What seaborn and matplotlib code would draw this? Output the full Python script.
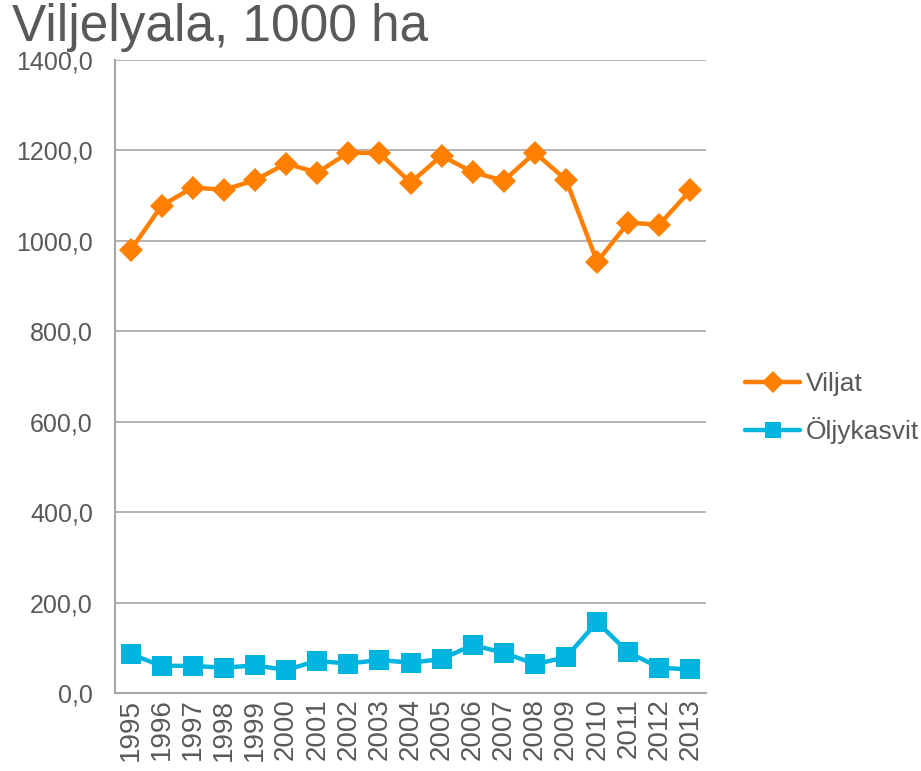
import numpy as np
import pandas as pd
import seaborn as sns
import matplotlib.pyplot as plt
from matplotlib.ticker import FuncFormatter

years = [str(y) for y in range(1995, 2014)]
viljat = [979, 1078, 1118, 1113, 1134, 1171, 1151, 1195, 1194, 1129,
          1188, 1152, 1133, 1195, 1135, 954, 1040, 1036, 1112]
oljykasvit = [86, 60, 60, 56, 61, 51, 71, 65, 73, 67,
              75, 106, 89, 64, 79, 157, 90, 56, 52]
series_names = ['Viljat', 'Öljykasvit']

sns.set_style('white')
plt.rcParams['font.family'] = ['Liberation Sans', 'DejaVu Sans']

text_col = '#595959'
axis_col = '#A6A6A6'

df = pd.DataFrame({
    'x': list(range(len(years))) * 2,
    'value': viljat + oljykasvit,
    'series': [series_names[0]] * len(years) + [series_names[1]] * len(years),
})

fig = plt.figure(figsize=(9.21, 7.71), dpi=100)
ax = fig.add_axes([115 / 921, 1 - 693 / 771, 591 / 921, 633 / 771])

sns.lineplot(data=df, x='x', y='value', hue='series', style='series',
             palette=['#FF8000', '#00B4E0'], markers=['D', 's'], dashes=False,
             linewidth=3.2, markersize=11, markeredgewidth=0, ax=ax)
for ln, ms in zip(ax.lines, [12, 14]):
    ln.set_markersize(ms)

ax.set_xlim(-0.5, len(years) - 0.5)
ax.set_ylim(0, 1400)
ax.set_yticks(np.arange(0, 1401, 200))
ax.yaxis.set_major_formatter(FuncFormatter(lambda v, p: f'{v:.1f}'.replace('.', ',')))
ax.set_xticks(range(len(years)))
ax.set_xticklabels(years, rotation=90)
ax.set_xticks(np.arange(-0.5, len(years), 1), minor=True)
ax.tick_params(axis='x', which='major', length=0, pad=4, labelsize=20, labelcolor=text_col)
ax.tick_params(axis='x', which='minor', length=8, width=1.2, color=axis_col, direction='out')
ax.tick_params(axis='y', length=8, width=1.2, color=axis_col, direction='inout',
               labelsize=18, labelcolor=text_col, pad=12)
ax.grid(axis='y', color=axis_col, linewidth=1.2)
ax.set_axisbelow(True)
for s in ['top', 'right']:
    ax.spines[s].set_visible(False)
for s in ['left', 'bottom']:
    ax.spines[s].set_color(axis_col)
    ax.spines[s].set_linewidth(1.5)
ax.set_xlabel('')
ax.set_ylabel('')

handles, labels = ax.get_legend_handles_labels()
ax.legend(handles, labels, loc='center left', bbox_to_anchor=(745 / 921, 1 - 408 / 771),
          bbox_transform=fig.transFigure, frameon=False, fontsize=19,
          labelcolor=text_col, handlelength=2.1, handletextpad=0.2, labelspacing=0.8,
          borderpad=0, borderaxespad=0)

fig.text(12 / 921, 1 - 41 / 771, 'Viljelyala, 1000 ha', fontsize=37, color=text_col,
         ha='left', va='baseline')

fig.savefig('out.png', dpi=100)
